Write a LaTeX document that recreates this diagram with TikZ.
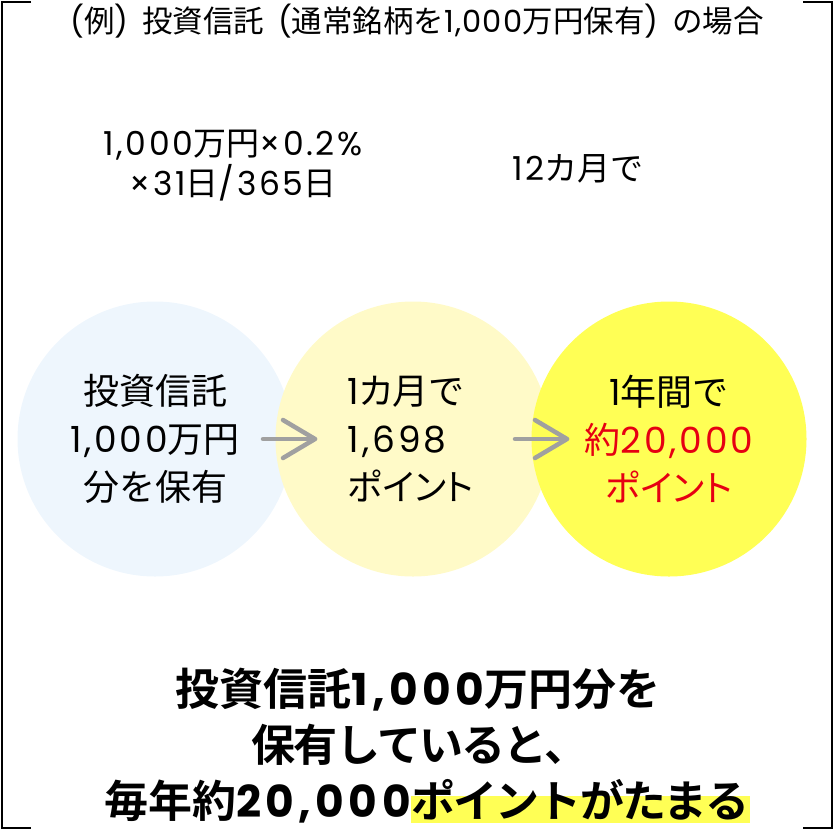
\documentclass[tikz,border=0pt]{standalone}
\usepackage{fontspec}
\setmainfont{Noto Sans CJK JP}[BoldFont={Noto Sans CJK JP Bold}]
\newfontfamily\kanafont{Noto Sans CJK JP}[RawFeature=+palt]
\newfontfamily\tightfont{Noto Sans CJK JP}[LetterSpace=-4,BoldFont={Noto Sans CJK JP Bold}]
\newfontfamily\numfont{Poppins}[LetterSpace=4]
\newfontfamily\numfontwide{Poppins}[LetterSpace=8]
\newfontfamily\numfontbold{Poppins}[LetterSpace=10]
\newcommand{\nm}[1]{{\numfont #1}}
\newcommand{\nmw}[1]{{\numfontwide #1}}
\newcommand{\nmb}[1]{{\numfontbold #1}}
\usetikzlibrary{backgrounds}

\definecolor{pointBlue}{HTML}{EEF6FD}
\definecolor{pointPale}{HTML}{FFFAC8}
\definecolor{pointYellow}{HTML}{FFFF55}
\definecolor{pointRed}{HTML}{E60012}
\definecolor{pointGray}{HTML}{A0A0A0}

\begin{document}
\begin{tikzpicture}[x=1pt,y=-1pt,
  bracket/.style={draw=black,line width=2pt},
  stepcircle/.style={circle,minimum size=275pt,inner sep=0pt},
  steptext/.style={font=\fontsize{36}{48}\selectfont},
  summary/.style={font=\bfseries\fontsize{44}{54}\selectfont},
  flowarrow/.style={draw=pointGray,line width=4.5pt,line cap=round,line join=round}]
  \useasboundingbox (0,0) rectangle (834,830);

  % corner brackets
  \draw[bracket] (31,2) -- (2,2) -- (2,828) -- (31,828);
  \draw[bracket] (803,2) -- (832,2) -- (832,828) -- (803,828);

  \node[font=\fontsize{30.5}{32}\selectfont] (title) at (417,21)
    {\nm{(}例\nm{)}\hspace{0.45em}投資信託\hspace{0.45em}\nm{(}通常銘柄を\nm{1,000}万円保有\nm{)}\hspace{0.45em}の場合};

  \node[align=center,font=\fontsize{33}{40}\selectfont] (calc) at (233,166)
    {\nmw{1,000}万円\nmw{×0.2\%}\\\nmw{×31}日\nmw{/365}日};
  \node[font=\fontsize{33}{36}\selectfont] (twelve) at (578,169) {\nmw{12}カ月で};

  % three circles, later ones on top
  \node[stepcircle,fill=pointBlue] (hold) at (155,439) {};
  \node[steptext,align=center] (holdText) at (hold) {投資信託\\\nmw{1,000}万円\\分を保有};
  \node[stepcircle,fill=pointPale] (month) at (413,439) {};
  \node[steptext,align=left,xshift=-2pt] (monthText) at (month)
    {\nmw{1}{\kanafont カ}月で\\\nmw{1,698}\\{\kanafont ポイント}};
  \node[stepcircle,fill=pointYellow] (year) at (669,439) {};
  \node[steptext,align=center] (yearText) at (year)
    {\nmw{1}年間で\\\textcolor{pointRed}{約\nmw{20,000}}\\\textcolor{pointRed}{\kanafont ポイント}};

  \coordinate (arrOneA) at (263,439);
  \coordinate (arrOneB) at (315,439);
  \coordinate (arrTwoA) at (515,439);
  \coordinate (arrTwoB) at (567,439);
  \draw[flowarrow] (arrOneA) -- (arrOneB);
  \draw[flowarrow] (arrOneB) ++(-32,-19) -- (arrOneB) -- ++(-32,19);
  \draw[flowarrow] (arrTwoA) -- (arrTwoB);
  \draw[flowarrow] (arrTwoB) ++(-32,-19) -- (arrTwoB) -- ++(-32,19);

  % summary
  \node[summary] (sumOne) at (418,690) {投資信託\nmb{1,000}万円分を};
  \node[summary] (sumTwo) at (420,745) {\tightfont 保有していると、};
  \node[summary,anchor=base east,inner sep=0pt,text depth=0pt] (sumThree) at (411,817)
    {毎年約\nmb{20,000}};
  \node[summary,anchor=base west,inner sep=0pt,text depth=0pt] (sumPoints) at (sumThree.base east)
    {\tightfont ポイントがたまる};
  \begin{pgfonlayer}{background}
    \fill[pointYellow] (sumPoints.west |- 0,796) rectangle (sumPoints.east |- 0,823);
  \end{pgfonlayer}
\end{tikzpicture}
\end{document}
